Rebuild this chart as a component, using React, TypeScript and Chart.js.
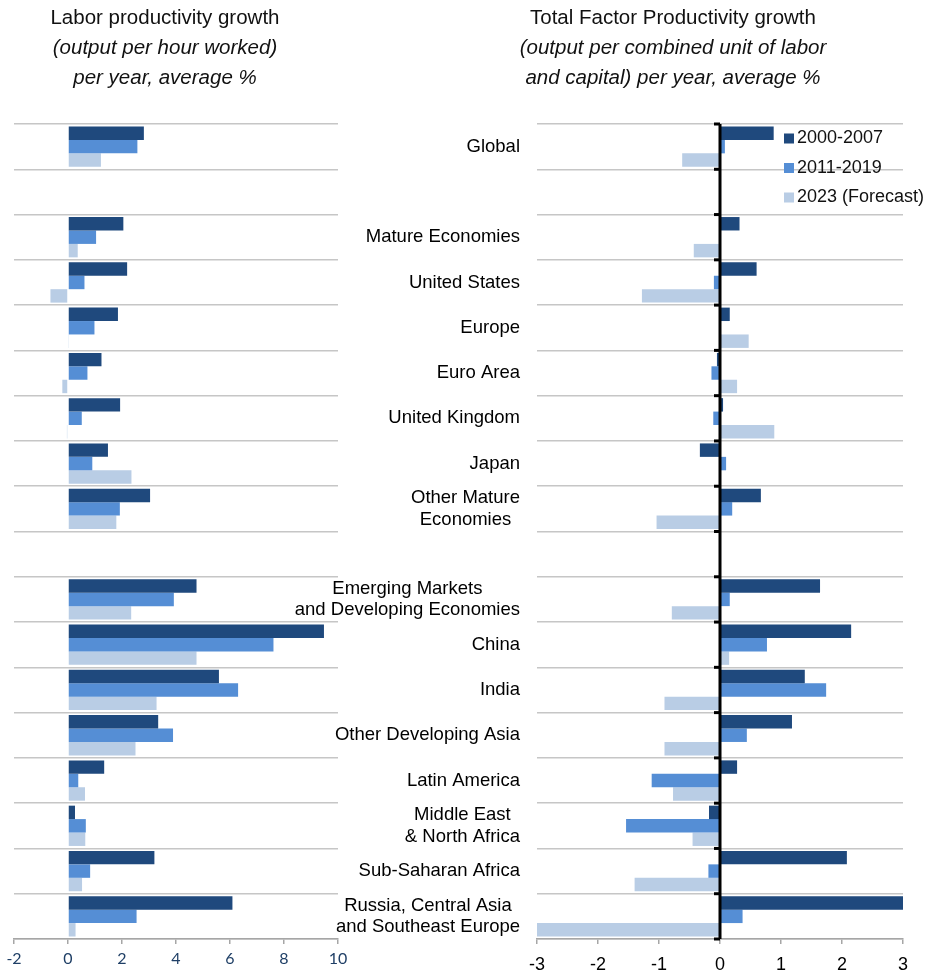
import React, { useEffect, useRef } from "react";
import { Chart, registerables } from "chart.js";

Chart.register(...registerables);

const categories: (string | string[])[] = [
  "Global",
  "",
  "Mature Economies",
  "United States",
  "Europe",
  "Euro Area",
  "United Kingdom",
  "Japan",
  ["Other Mature", "Economies"],
  "",
  ["Emerging Markets", "and Developing Economies"],
  "China",
  "India",
  "Other Developing Asia",
  "Latin America",
  ["Middle East", "& North Africa"],
  "Sub-Saharan Africa",
  ["Russia, Central Asia", "and Southeast Europe"],
];

const seriesNames = ["2000-2007", "2011-2019", "2023 (Forecast)"];
const seriesColors = ["#1F497D", "#558ED5", "#B9CDE5"];

// Labor productivity growth (% per year)
const labor2000 = [2.81, null, 2.05, 2.19, 1.85, 1.24, 1.93, 1.48, 3.04, null, 4.76, 9.48, 5.59, 3.34, 1.34, 0.26, 3.2, 6.09];
const labor2011 = [2.57, null, 1.04, 0.61, 0.98, 0.72, 0.51, 0.9, 1.92, null, 3.92, 7.61, 6.3, 3.89, 0.38, 0.66, 0.82, 2.54];
const labor2023 = [1.22, null, 0.36, -0.65, 0.02, -0.21, -0.04, 2.35, 1.79, null, 2.34, 4.76, 3.28, 2.5, 0.63, 0.64, 0.52, 0.28];

// Total factor productivity growth (% per year)
const tfp2000 = [0.88, null, 0.32, 0.6, 0.16, -0.05, 0.05, -0.33, 0.67, null, 1.64, 2.15, 1.39, 1.18, 0.28, -0.18, 2.08, 3.0];
const tfp2011 = [0.08, null, 0.0, -0.1, 0.01, -0.14, -0.11, 0.1, 0.2, null, 0.16, 0.77, 1.74, 0.44, -1.12, -1.54, -0.19, 0.37];
const tfp2023 = [-0.62, null, -0.43, -1.28, 0.47, 0.28, 0.89, 0.0, -1.04, null, -0.79, 0.15, -0.91, -0.91, -0.77, -0.45, -1.4, -3.0];

const laborAxis = { min: -2, max: 10, step: 2 };
const tfpAxis = { min: -3, max: 3, step: 1 };

const ARIAL = '"Liberation Sans", Arial, sans-serif';
const GRID = "#C6C6C6";
const AXIS = "#A6A6A6";

function makeDatasets(series: (number | null)[][]) {
  return series.map((d, i) => ({
    label: seriesNames[i],
    data: d,
    backgroundColor: seriesColors[i],
    borderWidth: 0,
    categoryPercentage: 0.89,
    barPercentage: 1.0,
  }));
}

const zeroLinePlugin = {
  id: "zeroLine",
  afterDatasetsDraw(chart: any) {
    const { ctx, chartArea } = chart;
    const xs = chart.scales.x;
    const ys = chart.scales.y;
    const x0 = xs.getPixelForValue(0);
    ctx.save();
    ctx.strokeStyle = "#000";
    ctx.lineWidth = 3;
    ctx.beginPath();
    ctx.moveTo(x0, chartArea.top);
    ctx.lineTo(x0, chartArea.bottom);
    ctx.stroke();
    for (let i = 0; i <= categories.length; i++) {
      const yy = ys.getPixelForValue(i - 0.5);
      ctx.beginPath();
      ctx.moveTo(x0 - 6, yy);
      ctx.lineTo(x0, yy);
      ctx.stroke();
    }
    ctx.restore();
  },
};

const categoryLabelPlugin = {
  id: "catLabels",
  afterDraw(chart: any) {
    const { ctx, chartArea } = chart;
    const ys = chart.scales.y;
    ctx.save();
    ctx.font = `18.5px ${ARIAL}`;
    ctx.fillStyle = "#000";
    ctx.textAlign = "center";
    ctx.textBaseline = "middle";
    const lineH = 21.5;
    categories.forEach((lab, i) => {
      const lines = Array.isArray(lab) ? lab : [lab];
      if (!lines[0]) return;
      const w = Math.max(...lines.map((l) => ctx.measureText(l).width));
      const cx = chartArea.left - 17 - w / 2;
      const cy = ys.getPixelForValue(i);
      lines.forEach((l, k) => {
        ctx.fillText(l, cx, cy + (k - (lines.length - 1) / 2) * lineH);
      });
    });
    ctx.restore();
  },
};

const legendPlugin = {
  id: "innerLegend",
  afterDraw(chart: any) {
    const { ctx, chartArea } = chart;
    const lx = chartArea.right - 119;
    const ly = chartArea.top + 14.5;
    ctx.save();
    ctx.font = `18px ${ARIAL}`;
    ctx.textAlign = "left";
    ctx.textBaseline = "middle";
    chart.data.datasets.forEach((ds: any, i: number) => {
      const y = ly + i * 29.5;
      ctx.fillStyle = ds.backgroundColor;
      ctx.fillRect(lx, y - 5, 10, 10);
      ctx.fillStyle = "#111";
      ctx.fillText(ds.label, lx + 13, y);
    });
    ctx.restore();
  },
};

export default function App() {
  const leftRef = useRef<HTMLCanvasElement | null>(null);
  const rightRef = useRef<HTMLCanvasElement | null>(null);

  useEffect(() => {
    document.body.style.margin = "0";
    const left = new Chart(leftRef.current as HTMLCanvasElement, {
      type: "bar",
      data: {
        labels: categories.map((c) => (Array.isArray(c) ? c.join(" ") : c)),
        datasets: makeDatasets([labor2000, labor2011, labor2023]) as any,
      },
      options: {
        indexAxis: "y",
        animation: false,
        responsive: false,
        maintainAspectRatio: false,
        layout: { padding: { left: 14, right: 22, top: 124, bottom: 0 } },
        plugins: { legend: { display: false }, tooltip: { enabled: false } },
        scales: {
          x: {
            type: "linear",
            min: laborAxis.min,
            max: laborAxis.max,
            ticks: {
              stepSize: laborAxis.step,
              color: "#1F3F66",
              font: { family: "Lato, Carlito, sans-serif", size: 16 },
              padding: 5,
            },
            grid: { drawOnChartArea: false, drawTicks: true, tickLength: 5, color: AXIS, lineWidth: 1.5 },
            border: { display: true, color: AXIS, width: 1.5 },
            afterFit: (s: any) => {
              s.height = 36;
            },
          },
          y: {
            type: "category",
            ticks: { display: false },
            grid: { color: GRID, lineWidth: 1.5, drawTicks: false, offset: true },
            border: { display: false },
          },
        },
      } as any,
    });

    const right = new Chart(rightRef.current as HTMLCanvasElement, {
      type: "bar",
      data: {
        labels: categories.map((c) => (Array.isArray(c) ? c.join(" ") : c)),
        datasets: makeDatasets([tfp2000, tfp2011, tfp2023]) as any,
      },
      options: {
        indexAxis: "y",
        animation: false,
        responsive: false,
        maintainAspectRatio: false,
        layout: { padding: { left: 267, right: 27, top: 124, bottom: 0 } },
        plugins: { legend: { display: false }, tooltip: { enabled: false } },
        scales: {
          x: {
            type: "linear",
            min: tfpAxis.min,
            max: tfpAxis.max,
            ticks: {
              stepSize: tfpAxis.step,
              color: "#000",
              font: { family: ARIAL, size: 18 },
              padding: 10,
            },
            grid: { drawOnChartArea: false, drawTicks: true, tickLength: 5, color: AXIS, lineWidth: 1.5 },
            border: { display: true, color: AXIS, width: 1.5 },
            afterFit: (s: any) => {
              s.height = 36;
            },
          },
          y: {
            type: "category",
            ticks: { display: false },
            grid: { color: GRID, lineWidth: 1.5, drawTicks: false, offset: true },
            border: { display: false },
          },
        },
      } as any,
      plugins: [zeroLinePlugin, categoryLabelPlugin, legendPlugin],
    });

    return () => {
      left.destroy();
      right.destroy();
    };
  }, []);

  const titleStyle: React.CSSProperties = {
    position: "absolute",
    top: 2,
    textAlign: "center",
    fontFamily: ARIAL,
    fontSize: 20.5,
    lineHeight: "30px",
    color: "#111",
  };

  return (
    <div style={{ position: "relative", width: 930, height: 975, overflow: "hidden", background: "#fff" }}>
      <canvas ref={leftRef} width={360} height={975} style={{ position: "absolute", left: 0, top: 0 }} />
      <canvas ref={rightRef} width={660} height={975} style={{ position: "absolute", left: 270, top: 0 }} />
      <div style={{ ...titleStyle, left: 0, width: 330 }}>
        <div>Labor productivity growth</div>
        <div style={{ fontStyle: "italic" }}>(output per hour worked)</div>
        <div style={{ fontStyle: "italic" }}>per year, average %</div>
      </div>
      <div style={{ ...titleStyle, left: 473, width: 400 }}>
        <div>Total Factor Productivity growth</div>
        <div style={{ fontStyle: "italic" }}>(output per combined unit of labor</div>
        <div style={{ fontStyle: "italic" }}>and capital) per year, average %</div>
      </div>
    </div>
  );
}
